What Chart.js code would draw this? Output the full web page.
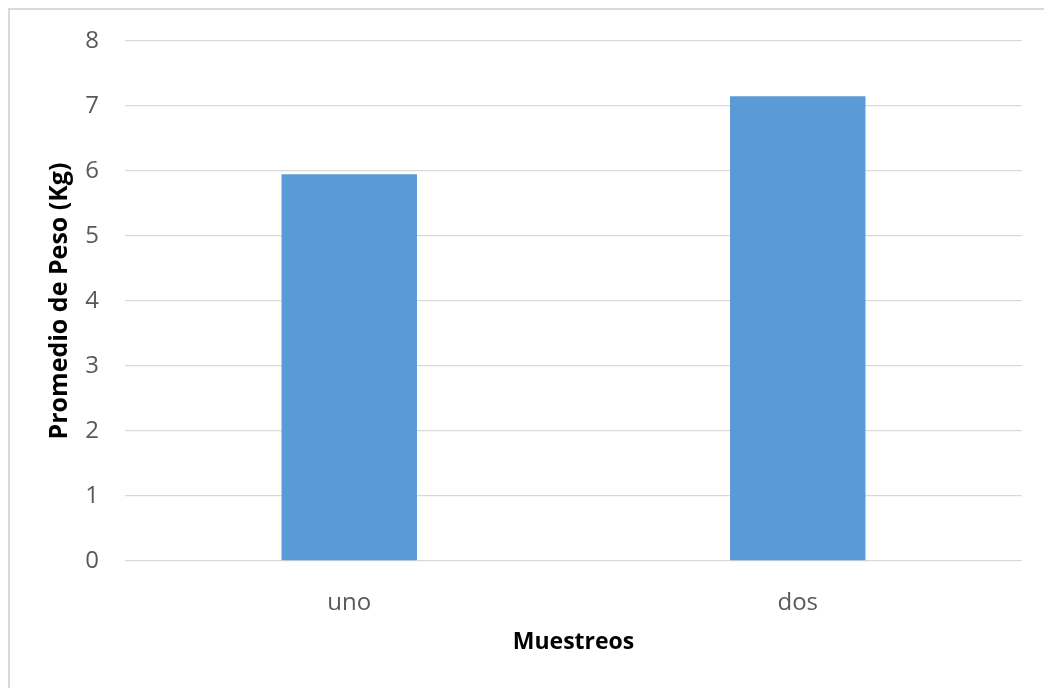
<!DOCTYPE html>
<html>
<head>
<meta charset="utf-8">
<script src="https://cdn.jsdelivr.net/npm/chart.js@4.4.1/dist/chart.umd.min.js"></script>
<style>
  html, body { margin: 0; padding: 0; background: #ffffff; }
  #wrap { position: relative; width: 1044px; height: 688px; }
  #frame {
    position: absolute; left: 8px; top: 8px; right: 0; bottom: 0;
    border-left: 2px solid #d9d9d9; border-top: 2px solid #d9d9d9;
    pointer-events: none;
  }
</style>
</head>
<body>
<div id="wrap">
  <canvas id="chart" width="1044" height="688"></canvas>
  <div id="frame"></div>
</div>
<script>
const categories = ['uno', 'dos'];
const pesoPromedio = [5.95, 7.15];
const yTicks = [0, 1, 2, 3, 4, 5, 6, 7, 8];

const family = '"Open Sans", "Noto Sans", sans-serif';
const tickFont = { family, size: 24 };
const xTitleFont = { family, size: 23, weight: 'bold' };
const yTitleFont = { family, size: 25, weight: 'bold' };

new Chart(document.getElementById('chart'), {
  type: 'bar',
  data: {
    labels: categories,
    datasets: [{
      label: 'Promedio de Peso (Kg)',
      data: pesoPromedio,
      backgroundColor: '#5b9bd5',
      borderWidth: 0,
      categoryPercentage: 1,
      barPercentage: 0.302
    }]
  },
  options: {
    responsive: false,
    animation: false,
    devicePixelRatio: 1,
    layout: { padding: { left: 0, top: 41, right: 22, bottom: 0 } },
    plugins: {
      legend: { display: false },
      tooltip: { enabled: false }
    },
    scales: {
      x: {
        grid: { display: false },
        border: { display: false },
        ticks: { color: '#595959', font: tickFont, padding: 20 },
        title: {
          display: true,
          text: 'Muestreos',
          color: '#000000',
          font: xTitleFont,
          padding: { top: 0, bottom: 32 }
        },
        afterFit: (scale) => { scale.height = 127; }
      },
      y: {
        min: 0,
        max: 8,
        afterBuildTicks: (scale) => { scale.ticks = yTicks.map(v => ({ value: v })); },
        grid: { color: '#d9d9d9', lineWidth: 1.3, drawTicks: false },
        border: { display: false },
        ticks: { color: '#595959', font: tickFont, padding: 26 },
        title: {
          display: true,
          text: 'Promedio de Peso (Kg)',
          color: '#000000',
          font: yTitleFont,
          padding: { top: 45, bottom: 0 }
        },
        afterFit: (scale) => { scale.width = 125; }
      }
    }
  }
});
</script>
</body>
</html>
